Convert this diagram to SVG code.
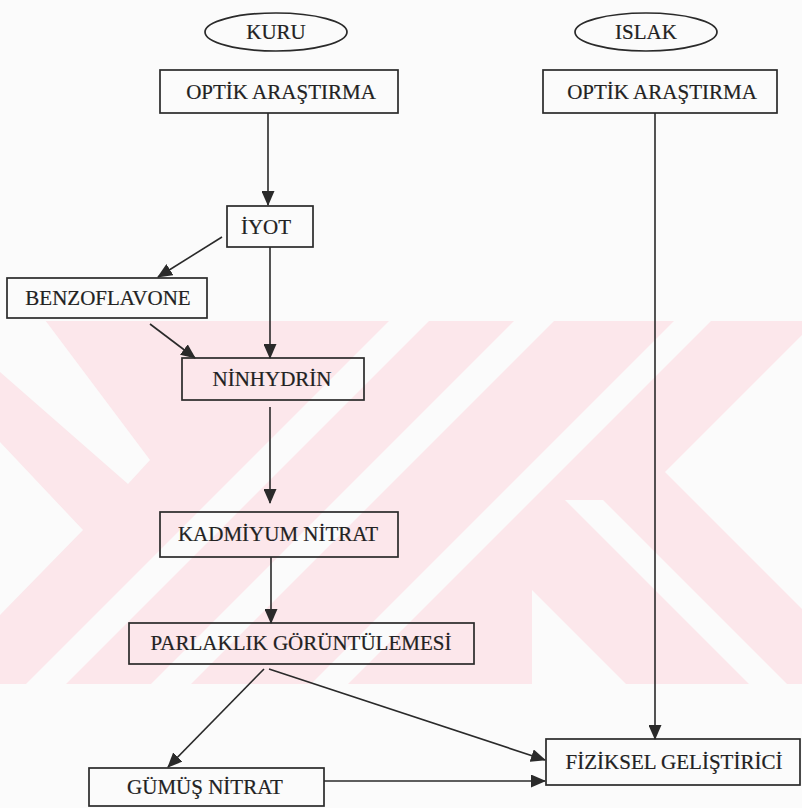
<svg xmlns="http://www.w3.org/2000/svg" width="802" height="808" viewBox="0 0 802 808">
<style>
.box{fill:none;stroke:#2a2a2a;stroke-width:1.7}
.lbl{font-family:"Liberation Serif","Times New Roman",serif;font-size:21px;fill:#222;stroke:#222;stroke-width:0.2;text-anchor:middle}
.con{stroke:#2a2a2a;stroke-width:1.6;fill:none;marker-end:url(#ah)}
.wm{fill:#fbfbfb}
</style>
<defs>
<marker id="ah" markerUnits="userSpaceOnUse" markerWidth="15" markerHeight="13" refX="14" refY="6.5" orient="auto">
<path d="M0,0 L15,6.5 L0,13 Z" fill="#2a2a2a"/>
</marker>
<clipPath id="band"><rect x="0" y="321" width="802" height="363"/></clipPath>
</defs>
<rect x="0" y="0" width="802" height="808" fill="#fbfbfb"/>
<g id="watermark" clip-path="url(#band)">
<rect x="0" y="321" width="802" height="363" fill="#fce7eb"/>
<polygon class="wm" points="0,320 45,320 150,460 128,484 0,372"/>
<polygon class="wm" points="0,442 83,530 0,615"/>
<polygon class="wm" points="390,320 430,320 65,685 25,685"/>
<polygon class="wm" points="515,320 555,320 190,685 150,685"/>
<polygon class="wm" points="675,320 712,320 347,685 310,685"/>
<polygon class="wm" points="665,472 802,335 802,609"/>
<polygon class="wm" points="565,500 603,500 788,685 750,685"/>
<polygon class="wm" points="532,590 627,685 532,685"/>
</g>
<g id="connectors">
<line class="con" x1="268" y1="113" x2="268" y2="205"/>
<line class="con" x1="655" y1="113" x2="655" y2="739"/>
<line class="con" x1="270" y1="247" x2="270" y2="358"/>
<line class="con" x1="222" y1="237" x2="158" y2="277"/>
<line class="con" x1="150" y1="324" x2="195" y2="358"/>
<line class="con" x1="270" y1="407" x2="270" y2="503"/>
<line class="con" x1="271" y1="557" x2="271" y2="623"/>
<line class="con" x1="264" y1="669" x2="168" y2="767"/>
<line class="con" x1="269" y1="669" x2="545" y2="760"/>
<line class="con" x1="324" y1="781" x2="545" y2="781"/>
</g>
<g id="kuru"><ellipse class="box" cx="276" cy="32" rx="71" ry="19"/><text class="lbl" x="276" y="39">KURU</text></g>
<g id="islak"><ellipse class="box" cx="646" cy="32" rx="71" ry="19"/><text class="lbl" x="646" y="39">ISLAK</text></g>
<g id="optik-kuru"><rect class="box" x="160" y="70" width="238" height="43"/><text class="lbl" x="281" y="99">OPTİK ARAŞTIRMA</text></g>
<g id="optik-islak"><rect class="box" x="543" y="70" width="234" height="43"/><text class="lbl" x="662" y="99">OPTİK ARAŞTIRMA</text></g>
<g id="iyot"><rect class="box" x="227" y="206" width="86" height="41"/><text class="lbl" x="266" y="234">İYOT</text></g>
<g id="benzoflavone"><rect class="box" x="7" y="278" width="200" height="40"/><text class="lbl" x="108" y="305">BENZOFLAVONE</text></g>
<g id="ninhydrin"><rect class="box" x="182" y="358" width="182" height="42"/><text class="lbl" x="272" y="386">NİNHYDRİN</text></g>
<g id="kadmiyum"><rect class="box" x="160" y="512" width="238" height="45"/><text class="lbl" x="278" y="541">KADMİYUM NİTRAT</text></g>
<g id="parlaklik"><rect class="box" x="129" y="623" width="345" height="41"/><text class="lbl" x="301" y="650">PARLAKLIK GÖRÜNTÜLEMESİ</text></g>
<g id="gumus"><rect class="box" x="89" y="768" width="235" height="38"/><text class="lbl" x="205" y="794">GÜMÜŞ NİTRAT</text></g>
<g id="fiziksel"><rect class="box" x="546" y="739" width="254" height="46"/><text class="lbl" x="674" y="769">FİZİKSEL GELİŞTİRİCİ</text></g>
</svg>
